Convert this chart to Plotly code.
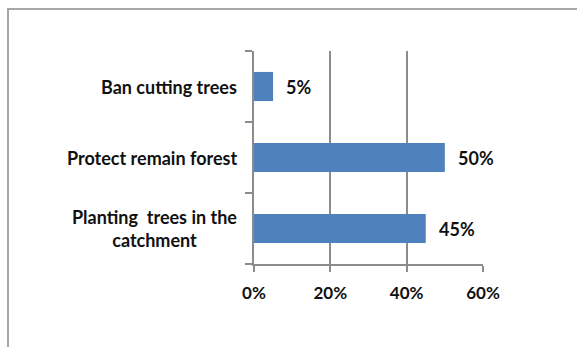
import plotly.graph_objects as go

# Survey responses: share of respondents per measure
categories = ["Planting  trees in the<br>catchment", "Protect remain forest", "Ban cutting trees"]
shares = [0.45, 0.50, 0.05]
x_ticks = [0, 0.2, 0.4, 0.6]
x_tick_labels = ["0%", "20%", "40%", "60%"]

W, H = 577, 347
ML, MR, MT, MB = 254, 94, 51, 83
plot_w = W - ML - MR
plot_h = H - MT - MB

FONT = "Lato"
TEXT = "#111111"
AXIS = "#8c8c8c"
BAR = "#4f81bd"
FS = 18

fig = go.Figure(
    go.Bar(
        y=categories,
        x=shares,
        orientation="h",
        marker=dict(color=BAR, line=dict(width=0)),
        width=0.41,
        hoverinfo="skip",
    )
)

# value labels beside each bar
for cat, v in zip(categories, shares):
    fig.add_annotation(
        x=v, y=cat, xref="x", yref="y",
        text=f"{round(v * 100)}%",
        showarrow=False, xanchor="left", xshift=11,
        font=dict(family=FONT, size=FS, color=TEXT, weight="bold"),
    )

# category labels, centred when wrapped
for cat in categories:
    fig.add_annotation(
        x=0, y=cat, xref="paper", yref="y",
        text=cat, align="center",
        showarrow=False, xanchor="right", xshift=-15,
        font=dict(family=FONT, size=FS, color=TEXT, weight="bold"),
    )

# outer chart frame
def px_x(p):
    return (p - ML) / plot_w

def px_y(p):
    return (H - MB - p) / plot_h

fig.add_shape(
    type="rect", xref="paper", yref="paper",
    x0=px_x(8), x1=px_x(W + 20), y0=px_y(H + 20), y1=px_y(9),
    line=dict(color="#a6a6a6", width=2), fillcolor="rgba(0,0,0,0)",
    layer="below",
)

fig.update_layout(
    width=W, height=H,
    margin=dict(l=ML, r=MR, t=MT, b=MB),
    paper_bgcolor="white", plot_bgcolor="white",
    showlegend=False,
    xaxis=dict(
        range=[0, 0.6], tickvals=x_ticks, ticktext=x_tick_labels,
        showgrid=True, gridcolor=AXIS, gridwidth=1.5,
        zeroline=False, showline=True, linecolor=AXIS, linewidth=1.5,
        ticks="outside", ticklen=6, tickcolor=AXIS, tickwidth=1.5,
        ticklabelstandoff=7,
        tickfont=dict(family=FONT, size=17, color=TEXT, weight="bold"),
        fixedrange=True,
    ),
    yaxis=dict(
        categoryorder="array", categoryarray=categories,
        showticklabels=False, showgrid=False, zeroline=False,
        showline=True, linecolor=AXIS, linewidth=1.5,
        ticks="outside", ticklen=7, tickcolor=AXIS, tickwidth=1.5,
        tickson="boundaries",
        fixedrange=True,
    ),
    bargap=0.59,
)

fig.write_html("out.html")
